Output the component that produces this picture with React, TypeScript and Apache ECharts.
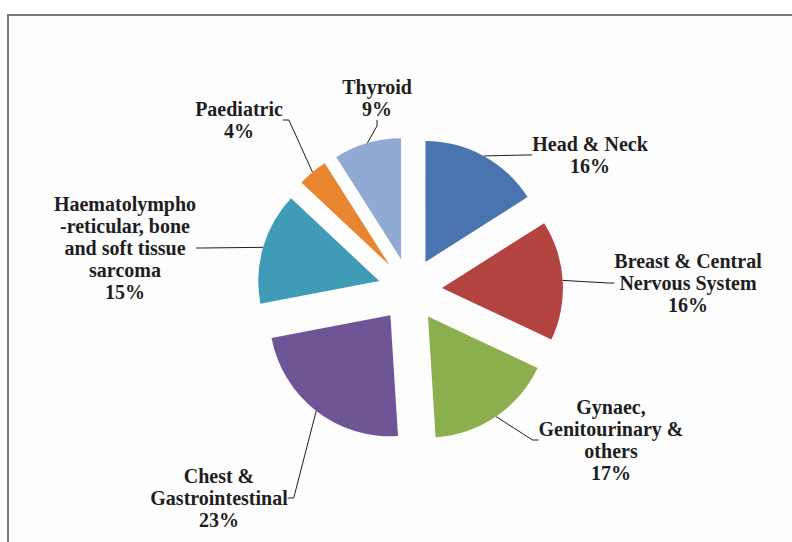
import React, { useEffect, useRef } from "react";
import * as echarts from "echarts";

const categories = [
  "Head & Neck",
  "Breast & Central\nNervous System",
  "Gynaec,\nGenitourinary &\nothers",
  "Chest &\nGastrointestinal",
  "Haematolympho\n-reticular, bone\nand soft tissue\nsarcoma",
  "Paediatric",
  "Thyroid",
];
const values = [16, 16, 17, 23, 15, 4, 9];
const colors = ["#4a74ae", "#b2433f", "#8caf4d", "#6f5596", "#409cb6", "#e8852f", "#91aad3"];
// label block centres (layout only)
const labelPos = [
  [590, 155],
  [688, 283],
  [611, 440],
  [219, 498],
  [125, 248],
  [239, 120],
  [377, 98],
];

const CX = 410;
const CY = 290;
const R = 121;
const EXPLODE = 32;

export default function App() {
  const ref = useRef<HTMLDivElement>(null);
  useEffect(() => {
    if (!ref.current) return;
    const chart = echarts.init(ref.current, undefined, { renderer: "svg" });
    const total = values.reduce((a, b) => a + b, 0);
    let cum = 0;
    const series = values.map((v, i) => {
      const mid = ((cum + v / 2) / total) * Math.PI * 2;
      cum += v;
      const cx = CX + EXPLODE * Math.sin(mid);
      const cy = CY - EXPLODE * Math.cos(mid);
      return {
        type: "pie",
        silent: true,
        center: [cx, cy],
        radius: R,
        startAngle: 90,
        clockwise: true,
        avoidLabelOverlap: false,
        emphasis: { disabled: true },
        itemStyle: { borderWidth: 0 },
        data: categories.map((c, j) => ({
          name: c,
          value: values[j],
          itemStyle: { color: j === i ? colors[j] : "rgba(0,0,0,0)" },
          label: { show: j === i },
          labelLine: { show: j === i },
        })),
        label: {
          position: "outside",
          formatter: (p: any) => `${p.name}\n${p.value}%`,
          fontFamily: "Liberation Serif",
          fontWeight: "bold",
          fontSize: 20,
          lineHeight: 22,
          color: "#1e1e1e",
          align: "center",
        },
        labelLine: {
          length: 15,
          length2: 6,
          lineStyle: { color: "#1e1e1e", width: 1 },
        },
        labelLayout: (params: any) => {
          const p = labelPos[params.dataIndex];
          return { x: p[0], y: p[1], align: "center", verticalAlign: "middle" };
        },
      };
    });
    chart.setOption({
      animation: false,
      backgroundColor: "#ffffff",
      graphic: [
        {
          type: "rect",
          shape: { x: 8, y: 15, width: 820, height: 600 },
          style: { fill: "#fdfdfd", stroke: "#7a7a7a", lineWidth: 2 },
          z: -10,
        },
      ],
      series,
    });
    return () => chart.dispose();
  }, []);
  return (
    <div
      ref={ref}
      style={{ position: "fixed", left: 0, top: 0, width: 792, height: 542 }}
    />
  );
}
